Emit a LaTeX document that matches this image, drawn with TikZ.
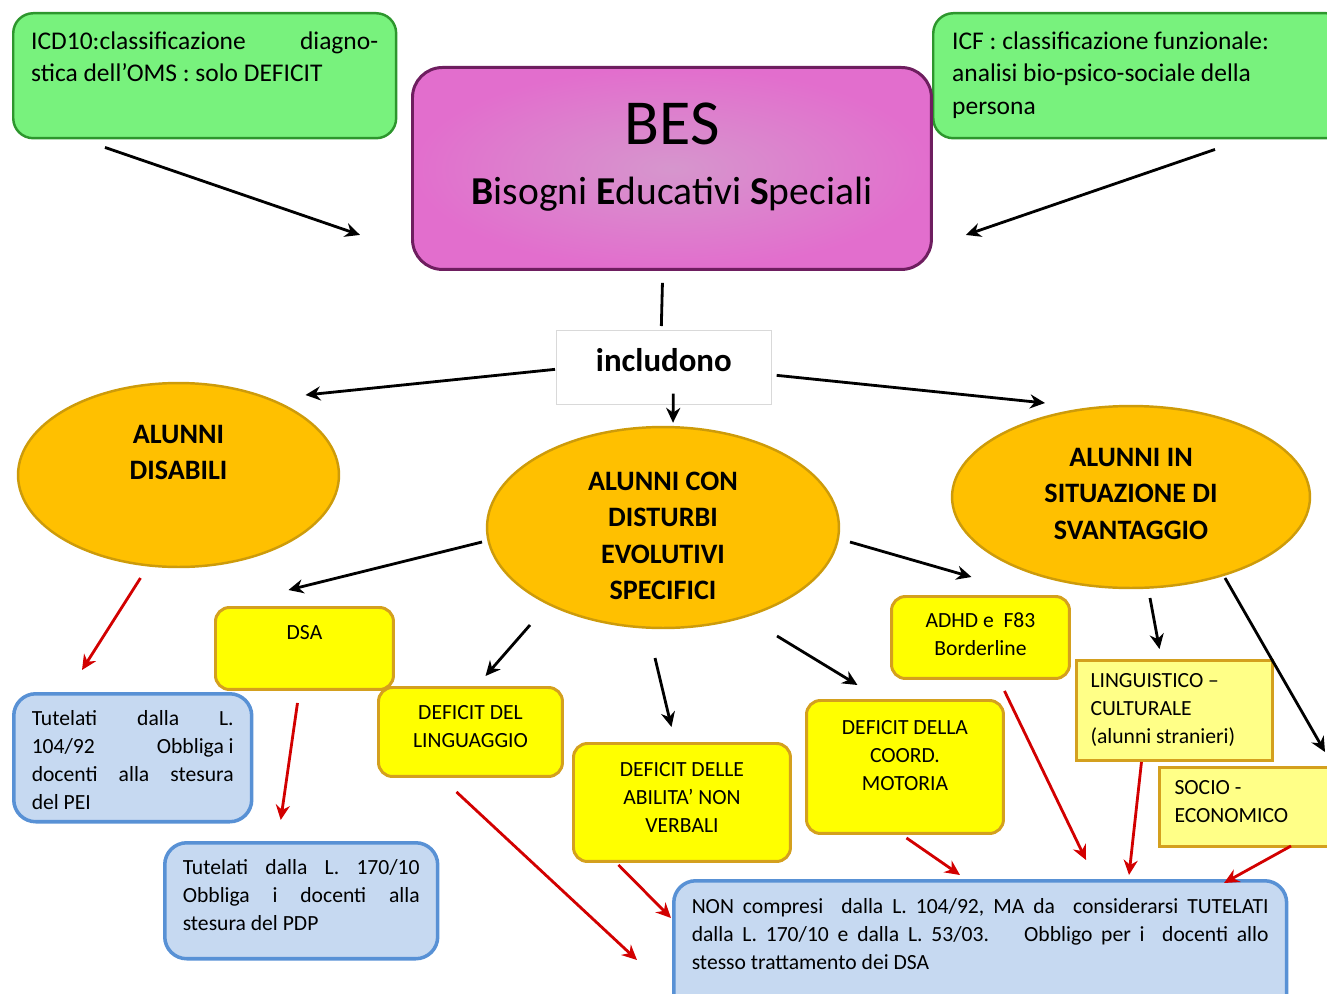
\documentclass[tikz,border=0pt]{standalone}
\usepackage{fontspec}
\setmainfont{Carlito}
\usetikzlibrary{shapes, arrows.meta, positioning, calc}
\definecolor{gfill}{RGB}{120, 242, 125}
\definecolor{gline}{RGB}{45, 150, 45}
\definecolor{pfill}{RGB}{226, 110, 205}
\definecolor{pinner}{RGB}{214, 150, 205}
\definecolor{pline}{RGB}{110, 30, 95}
\definecolor{ofill}{RGB}{255, 192, 0}
\definecolor{oline}{RGB}{205, 155, 10}
\definecolor{yfill}{RGB}{255, 255, 0}
\definecolor{yline}{RGB}{212, 160, 30}
\definecolor{lyfill}{RGB}{255, 255, 135}
\definecolor{bfill}{RGB}{198, 217, 241}
\definecolor{bline}{RGB}{88, 145, 213}
\definecolor{redarr}{RGB}{210, 0, 0}

\begin{document}
\begin{tikzpicture}[
  x=0.02cm, y=-0.02cm,
  gbox/.style={draw=gline, fill=gfill, line width=1.4pt, rounded corners=0.4cm, anchor=north west, inner ysep=0pt, inner xsep=0.36cm, align=flush left, font=\fontsize{14.5}{18.5}\selectfont},
  besbox/.style={draw=pline, shade, inner color=pinner, outer color=pfill, line width=1.7pt, rounded corners=0.6cm, anchor=north west, inner sep=0pt, align=flush center, font=\fontsize{22.5}{34}\selectfont},
  ebox/.style={ellipse, draw=oline, fill=ofill, line width=1.4pt, inner sep=0pt, text width=4cm, align=flush center, font=\bfseries\fontsize{16}{20.7}\selectfont},
  ybox/.style={draw=yline, fill=yfill, line width=1.7pt, rounded corners=0.28cm, anchor=north west, inner ysep=0pt, inner xsep=0.2cm, align=flush center, font=\fontsize{12.3}{15.9}\selectfont},
  lybox/.style={draw=yline, fill=lyfill, line width=1.7pt, anchor=north west, inner ysep=0pt, align=flush left, font=\fontsize{12.3}{15.9}\selectfont},
  bluebox/.style={draw=bline, fill=bfill, line width=2pt, rounded corners=0.44cm, anchor=north west, inner ysep=0pt, inner xsep=0.36cm, align=flush left, font=\fontsize{12.3}{15.9}\selectfont},
  arr/.style={-{Stealth[length=8.5pt, width=8pt]}, line width=1.6pt},
  rarr/.style={arr, draw=redarr}
]
  \useasboundingbox (0,0) rectangle (1327,993);
  \clip (0,0) rectangle (1327,993);

  % top row
  \node[gbox, text width=6.94cm, text height=0.72cm, text depth=1.78cm] (icd) at (12,12)
    {ICD10:classificazione\hfill diagno-\\stica dell’OMS : solo DEFICIT};
  \node[gbox, inner xsep=0.38cm, text width=7.5cm, text height=0.72cm, text depth=1.78cm] (icf) at (932,12)
    {ICF : classificazione funzionale:\\analisi bio-psico-sociale della\\persona};
  \node[besbox, text width=10.38cm, text height=1.54cm, text depth=2.5cm] (bes) at (411,66)
    {{\fontsize{36.5}{36.5}\selectfont BES}\\\textbf{B}isogni \textbf{E}ducativi \textbf{S}peciali};
  \node[draw=gray!30, fill=white, line width=0.4pt, anchor=north west, inner sep=0pt, align=flush center,
    text width=4.3cm, text height=0.82cm, text depth=0.66cm, font=\bfseries\fontsize{18.7}{22}\selectfont] (incl) at (556,330)
    {includono};

  % ellipses
  \node[ebox, minimum width=6.42cm, minimum height=3.68cm, text height=0.4cm, text depth=1.66cm] (disabili) at (178.5,475)
    {ALUNNI\\DISABILI};
  \node[ebox, minimum width=7.04cm, minimum height=4.02cm, text height=0.4cm, text depth=1.88cm] (dse) at (663,527.5)
    {ALUNNI CON\\DISTURBI\\EVOLUTIVI\\SPECIFICI};
  \node[ebox, minimum width=7.16cm, minimum height=3.64cm, text height=0.4cm, text depth=1.62cm] (svant) at (1131,497)
    {ALUNNI IN\\SITUAZIONE DI\\SVANTAGGIO};

  % yellow boxes
  \node[ybox, text width=3.16cm, text height=0.64cm, text depth=1.0cm] (dsa) at (214,606) {DSA};
  \node[ybox, text width=3.28cm, text height=0.64cm, text depth=1.14cm] (ling) at (377,686) {DEFICIT DEL\\LINGUAGGIO};
  \node[ybox, text width=3.94cm, text height=0.66cm, text depth=1.7cm] (abil) at (572,742) {DEFICIT DELLE\\ABILITA’ NON\\VERBALI};
  \node[ybox, text width=3.54cm, text height=0.68cm, text depth=1.98cm] (coord) at (805,699) {DEFICIT DELLA\\COORD.\\MOTORIA};
  \node[ybox, text width=3.16cm, text height=0.62cm, text depth=1.02cm] (adhd) at (890,595) {ADHD e\ \ F83\\Borderline};
  \node[lybox, inner xsep=0.28cm, text width=3.36cm, text height=0.54cm, text depth=1.46cm] (lingcult) at (1075,659)
    {LINGUISTICO –\\CULTURALE\\(alunni stranieri)};
  \node[lybox, inner xsep=0.3cm, text width=3.14cm, text height=0.54cm, text depth=1.04cm] (socio) at (1158,766)
    {SOCIO -\\ECONOMICO};

  % blue boxes
  \node[bluebox, text width=4.04cm, text height=0.64cm, text depth=1.92cm] (pei) at (12,692)
    {Tutelati\hfill dalla\hfill L.\\104/92\hfill Obbliga i\\docenti\hfill alla\hfill stesura\\del PEI};
  \node[bluebox, text width=4.74cm, text height=0.64cm, text depth=1.68cm] (pdp) at (163,841)
    {Tutelati\hfill dalla\hfill L.\hfill 170/10\\Obbliga\hfill i\hfill docenti\hfill alla\\stesura del PDP};
  \node[bluebox, text width=11.54cm, text height=0.66cm, text depth=2.42cm] (non) at (672,879)
    {NON\hfill compresi\hfill\hfill dalla\hfill L.\hfill 104/92,\hfill MA\hfill da\hfill\hfill considerarsi\hfill TUTELATI\\
     dalla\hfill L.\hfill 170/10\hfill e\hfill dalla\hfill L.\hfill 53/03.\hfill\hfill\hfill\hfill Obbligo\hfill per\hfill i\hfill\hfill docenti\hfill allo\\
     stesso trattamento dei DSA};

  % black connectors
  \draw[arr] ($(icd.south west)+(93,8)$) -- ($(bes.south west)+(-51,-36)$);
  \draw[arr] ($(icf.south west)+(283,10)$) -- ($(bes.south east)+(33,-36)$);
  \draw[line width=1.6pt] ($(bes.south)+(-9.5,12)$) -- ($(incl.north)+(-2.5,-4)$);
  \draw[arr] ($(incl.west)+(-1,2)$) -- ($(disabili.center)+(127,-80)$);
  \draw[arr] ($(incl.south)+(9.5,-11)$) -- ($(dse.north)+(10,-3)$);
  \draw[arr] ($(incl.east)+(5,8)$) -- ($(svant.center)+(-86,-94)$);
  \draw[arr] ($(dse.center)+(-181,14.5)$) -- ($(dsa.north)+(-16,-16)$);
  \draw[arr] ($(dse.center)+(-133,97.5)$) -- ($(ling.north)+(15,-10)$);
  \draw[arr] ($(dse.center)+(-8,130.5)$) -- ($(abil.north)+(-10.5,-15)$);
  \draw[arr] ($(dse.center)+(114,108.5)$) -- ($(coord.north)+(-47.5,-14)$);
  \draw[arr] ($(dse.center)+(187,14.5)$) -- ($(adhd.north)+(-9,-18)$);
  \draw[arr] ($(svant.center)+(19,101)$) -- ($(lingcult.north)+(-15,-10)$);
  \draw[arr] ($(svant.center)+(94,81)$) -- ($(socio.north west)+(167,-14)$);

  % red connectors
  \draw[rarr] ($(disabili.center)+(-38,103)$) -- ($(pei.north west)+(70,-22)$);
  \draw[rarr] ($(dsa.south)+(-7,12)$) -- ($(pdp.north)+(-20.5,-21)$);
  \draw[rarr] ($(ling.south)+(-14,14)$) -- ($(non.north west)+(-35,81)$);
  \draw[rarr] ($(abil.south)+(-63.5,2)$) -- ($(non.north west)+(-1,39)$);
  \draw[rarr] ($(coord.south)+(1.5,3)$) -- ($(non.north west)+(288,-4)$);
  \draw[rarr] ($(adhd.south)+(24,11)$) -- ($(non.north west)+(414,-19)$);
  \draw[rarr] ($(lingcult.south)+(-33,0)$) -- ($(non.north west)+(457,-4)$);
  \draw[rarr] ($(socio.south west)+(133,-2)$) -- ($(non.north west)+(552,4)$);
\end{tikzpicture}
\end{document}
